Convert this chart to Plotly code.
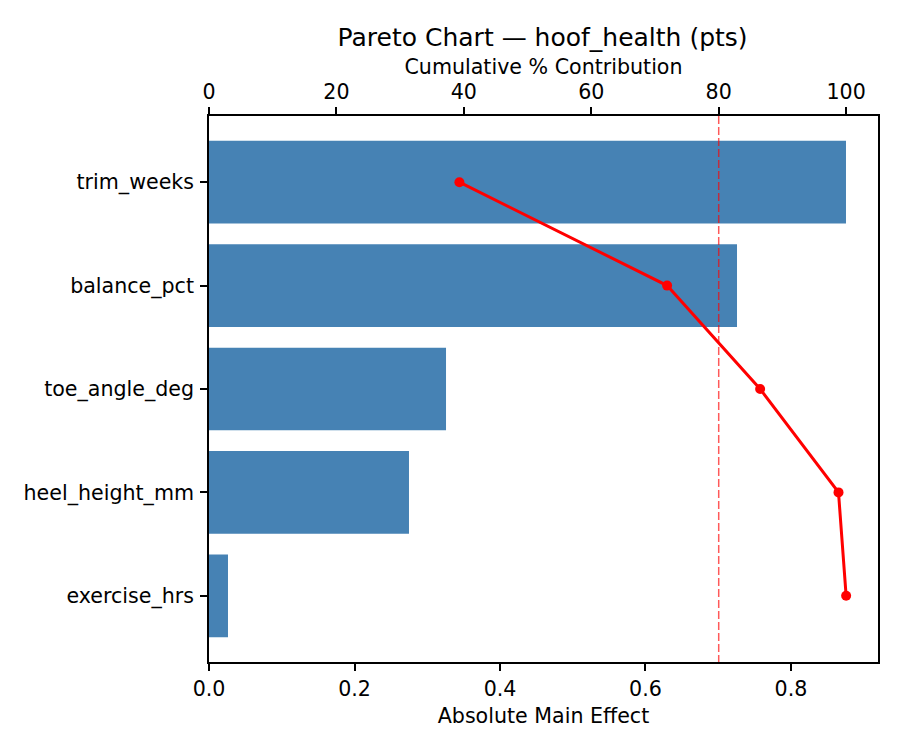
import plotly.graph_objects as go

factors = ["trim_weeks", "balance_pct", "toe_angle_deg", "heel_height_mm", "exercise_hrs"]
effects = [0.8756, 0.7258, 0.3258, 0.2749, 0.0261]
cum_pct = [39.3, 71.9, 86.5, 98.8, 100.0]
threshold = 80

font = dict(family="DejaVu Sans", size=20.6, color="black")

fig = go.Figure()

fig.add_trace(go.Bar(
    x=effects,
    y=factors,
    orientation="h",
    marker=dict(color="#4682B4", line=dict(width=0)),
    width=0.8,
    xaxis="x",
    yaxis="y",
    showlegend=False,
))

# threshold line on the cumulative axis
fig.add_trace(go.Scatter(
    x=[threshold, threshold],
    y=[-0.64, 4.64],
    mode="lines",
    line=dict(color="rgba(255,0,0,0.65)", width=1.5, dash="8px,3px"),
    xaxis="x2",
    yaxis="y2",
    showlegend=False,
    hoverinfo="skip",
))

fig.add_trace(go.Scatter(
    x=cum_pct,
    y=list(range(len(factors))),
    mode="lines+markers",
    line=dict(color="red", width=3),
    marker=dict(color="red", size=10),
    xaxis="x2",
    yaxis="y2",
    showlegend=False,
))

axis_common = dict(
    ticks="outside", ticklen=7, tickwidth=1.5, tickcolor="black",
    showline=True, linecolor="black", linewidth=1.7,
    showgrid=False, zeroline=False,
    tickfont=font,
)

fig.update_layout(
    width=900,
    height=750,
    margin=dict(l=201, r=30, t=108, b=96),
    paper_bgcolor="white",
    plot_bgcolor="white",
    font=font,
    title=dict(
        text="Pareto Chart — hoof_health (pts)",
        x=0.594, xanchor="center",
        y=1 - 29 / 750, yanchor="middle", yref="container",
        font=dict(family="DejaVu Sans", size=25, color="black"),
    ),
    xaxis=dict(
        range=[0, 0.9196],
        tickvals=[0.0, 0.2, 0.4, 0.6, 0.8],
        tickformat=".1f",
        mirror=True,
        title=dict(text="Absolute Main Effect", standoff=9, font=font),
        **axis_common,
    ),
    xaxis2=dict(
        range=[0, 105],
        overlaying="x",
        side="top",
        tickvals=[0, 20, 40, 60, 80, 100],
        title=dict(text="Cumulative % Contribution", standoff=0, font=font),
        **axis_common,
    ),
    yaxis=dict(
        type="category",
        categoryorder="array",
        categoryarray=factors,
        range=[4.64, -0.64],
        mirror=True,
        ticklabelstandoff=2,
        **axis_common,
    ),
    yaxis2=dict(
        range=[4.64, -0.64],
        overlaying="y",
        visible=False,
    ),
)

fig.write_html("out.html")
